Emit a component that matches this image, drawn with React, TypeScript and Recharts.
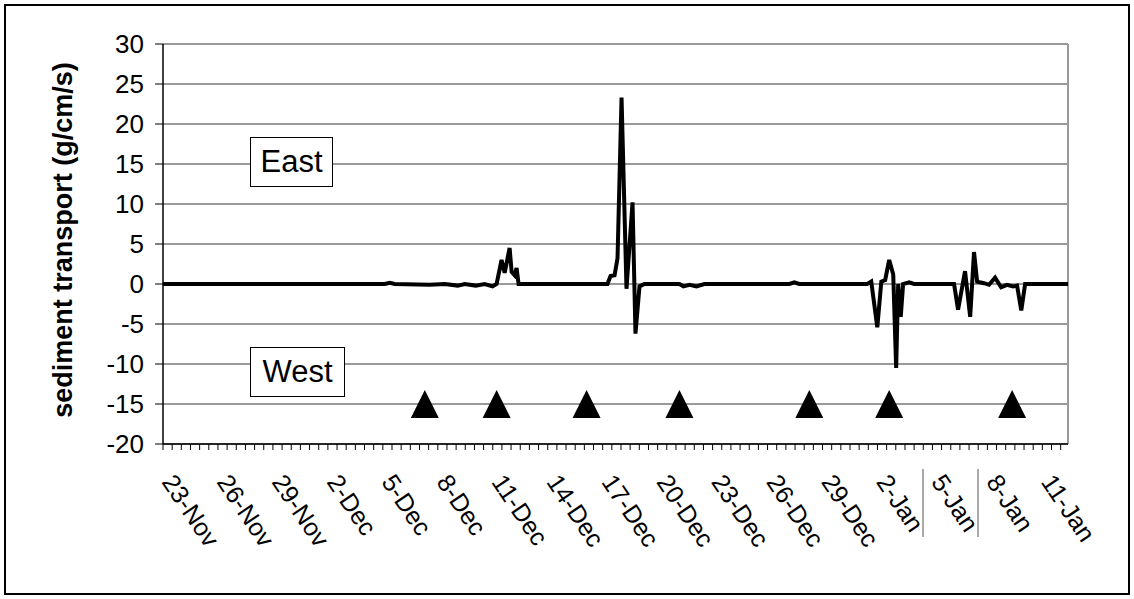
import React from "react";
import {
  ComposedChart,
  Line,
  Scatter,
  XAxis,
  YAxis,
  CartesianGrid,
  ReferenceLine,
} from "recharts";

// x position in "day index" units: 0 = 23-Nov label, one unit per labelled day step (labels every 3)
const sampleDays = [
  0, 12.1, 12.38, 12.65, 14.56, 15.38, 16.09, 16.47, 17.07, 17.56, 17.99, 18.21,
  18.48, 18.65, 18.92, 19.03, 19.19, 19.3, 19.41, 24.26, 24.43, 24.65, 24.81,
  25.03, 25.3, 25.63, 25.79, 26.01, 26.28, 28.19, 28.41, 28.74, 29.12, 29.55,
  34.19, 34.46, 34.73, 38.44, 38.66, 38.99, 39.21, 39.42, 39.64, 39.86, 40.02,
  40.13, 40.27, 40.4, 40.73, 41.0, 43.18, 43.4, 43.78, 44.06, 44.27, 44.44,
  44.82, 45.09, 45.42, 45.75, 46.07, 46.4, 46.62, 46.85, 47.06, 49.4,
];
const transportValues = [
  0, 0, 0.15, 0, -0.1, 0, -0.2, 0, -0.2, 0, -0.3, 0,
  3.0, 1.4, 4.5, 1.5, 1.1, 2.0, 0, 0, 1.0, 1.1, 3.2,
  23.3, -0.6, 10.2, -6.2, -0.3, 0, 0, -0.3, -0.1, -0.3, 0,
  0, 0.2, 0, 0, 0.3, -5.4, 0.3, 0.5, 3.0, 1.2, -10.5,
  0, -4.1, 0, 0.2, 0, 0, -3.2, 1.6, -4.1, 4.0, 0.3,
  0.1, -0.1, 0.8, -0.4, -0.1, -0.3, -0.2, -3.3, 0, 0,
];

// triangle markers (survey dates)
const markerDays = [14.29, 18.21, 23.12, 28.19, 35.28, 39.64, 46.35];
const markerValues = [-15, -15, -15, -15, -15, -15, -15];

const xLabels = [
  "23-Nov", "26-Nov", "29-Nov", "2-Dec", "5-Dec", "8-Dec", "11-Dec", "14-Dec",
  "17-Dec", "20-Dec", "23-Dec", "26-Dec", "29-Dec", "2-Jan", "5-Jan", "8-Jan",
  "11-Jan",
];
const labelStep = 3;
const minorStep = 0.5;
const xMax = 49.4;
const yTicks = [-20, -15, -10, -5, 0, 5, 10, 15, 20, 25, 30];

const lineData = sampleDays.map((u, i) => ({ u, v: transportValues[i] }));
const markerData = markerDays.map((u, i) => ({ u, v: markerValues[i] }));
const minorTicks: number[] = [];
for (let i = 0; i * minorStep <= 49; i++) minorTicks.push(i * minorStep);

const FONT = "'Liberation Sans', Arial, sans-serif";

const XTick = (props: any) => {
  const { x, y, payload } = props;
  const v = payload.value;
  const idx = Math.round(v / labelStep);
  if (Math.abs(v - idx * labelStep) > 1e-6 || idx >= xLabels.length) return null;
  const tx = x - 2;
  const ty = y + 30;
  return (
    <text
      x={tx}
      y={ty}
      transform={`rotate(56 ${tx} ${ty})`}
      textAnchor="start"
      fontFamily={FONT}
      fontSize={25}
      fill="#000"
    >
      {xLabels[idx]}
    </text>
  );
};

const Triangle = (props: any) => {
  const { cx, cy } = props;
  const w = 28;
  const h = 28;
  return (
    <polygon
      points={`${cx},${cy - h / 2} ${cx + w / 2},${cy + h / 2} ${cx - w / 2},${cy + h / 2}`}
      fill="#000"
    />
  );
};

export default function App() {
  return (
    <div
      style={{
        position: "absolute",
        left: 0,
        top: 0,
        width: 1134,
        height: 599,
        background: "#fff",
        fontFamily: FONT,
      }}
    >
      <div
        style={{
          position: "absolute",
          left: 4,
          top: 4,
          width: 1122,
          height: 587,
          border: "2px solid #000",
        }}
      />
      <ComposedChart
        width={1134}
        height={599}
        margin={{ top: 44, right: 66, bottom: 35, left: 0 }}
        style={{ position: "absolute", left: 0, top: 0 }}
      >
        <CartesianGrid horizontal vertical={false} stroke="#333" strokeWidth={1} />
        <XAxis
          type="number"
          dataKey="u"
          domain={[0, xMax]}
          ticks={minorTicks}
          interval={0}
          height={120}
          tick={<XTick />}
          tickSize={6}
          tickLine={{ stroke: "#000", strokeWidth: 1 }}
          axisLine={{ stroke: "#000", strokeWidth: 1.5 }}
          allowDataOverflow
        />
        <YAxis
          type="number"
          dataKey="v"
          domain={[-20, 30]}
          ticks={yTicks}
          interval={0}
          width={163}
          tickSize={8}
          tickMargin={11}
          tickLine={{ stroke: "#000" }}
          axisLine={{ stroke: "#000", strokeWidth: 1.5 }}
          tick={{ fill: "#000", fontSize: 26, fontFamily: FONT }}
          allowDataOverflow
        />
        <ReferenceLine y={30} stroke="#999" strokeWidth={1.5} />
        <ReferenceLine x={xMax} stroke="#999" strokeWidth={2} />
        <Line
          data={lineData}
          dataKey="v"
          type="linear"
          stroke="#000"
          strokeWidth={4}
          dot={false}
          isAnimationActive={false}
        />
        <Scatter
          data={markerData}
          dataKey="v"
          shape={<Triangle />}
          isAnimationActive={false}
        />
      </ComposedChart>
      <svg
        width={1134}
        height={599}
        style={{ position: "absolute", left: 0, top: 0, pointerEvents: "none" }}
      >
        <text
          x={72}
          y={240}
          transform="rotate(-90 72 240)"
          textAnchor="middle"
          fontFamily={FONT}
          fontWeight="bold"
          fontSize={27}
          fill="#000"
        >
          sediment transport (g/cm/s)
        </text>
        <line x1={923} y1={469} x2={923} y2={537} stroke="#aaa" strokeWidth={2} />
        <line x1={978} y1={469} x2={978} y2={537} stroke="#aaa" strokeWidth={2} />
      </svg>
      <div
        style={{
          position: "absolute",
          left: 250,
          top: 137,
          width: 81,
          height: 48,
          border: "1px solid #000",
          background: "#fff",
          fontSize: 31,
          lineHeight: "48px",
          textAlign: "center",
        }}
      >
        East
      </div>
      <div
        style={{
          position: "absolute",
          left: 250,
          top: 347,
          width: 93,
          height: 48,
          border: "1px solid #000",
          background: "#fff",
          fontSize: 31,
          lineHeight: "48px",
          textAlign: "center",
        }}
      >
        West
      </div>
    </div>
  );
}
